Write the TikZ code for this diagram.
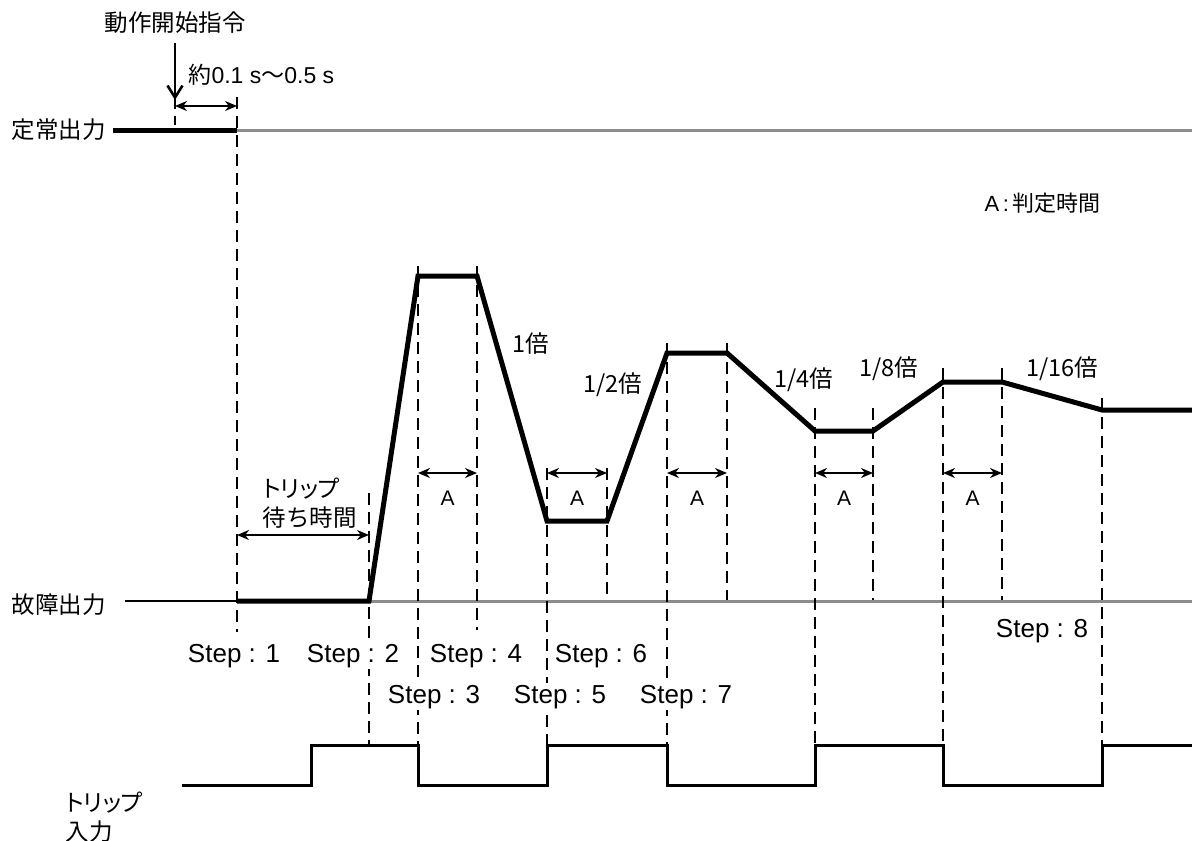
\documentclass[tikz,border=0pt]{standalone}
\usepackage{fontspec}
\setmainfont{Liberation Sans}
\newfontfamily\jp{Noto Sans CJK JP}
\newfontfamily\jpk[RawFeature=+palt]{Noto Sans CJK JP}
\usetikzlibrary{arrows.meta}
\begin{document}
\begin{tikzpicture}[x=1pt,y=-1pt,
  wave/.style={line width=5pt},
  level/.style={line width=3pt,black!45},
  guide/.style={line width=2.6pt,dash pattern=on 12pt off 7pt},
  dim/.style={line width=2.6pt,{Stealth[length=12pt,width=10pt]}-{Stealth[length=12pt,width=10pt]}},
  steplbl/.style={fill=white,inner sep=2pt,anchor=base,font=\fontsize{26}{28}\selectfont},
  jlbl/.style={font=\jp\fontsize{23.5}{29}\selectfont,align=left},
  alab/.style={font=\fontsize{21}{22}\selectfont}]
\useasboundingbox (0,0) rectangle (1192,841);
% levels
\draw[level] (237,130) -- (1192,130);
\draw[level] (369,601) -- (1192,601);
\draw[line width=2.6pt] (125,601) -- (237,601);
% guides
\foreach \x/\a/\b in {175/97/125,237/97/632,369/493/745,418/266/745,477/266/630,
  547/468/745,607/468/600,667/343/745,727/343/600,815/408/745,873/408/600,
  943/368/745,1002/368/600,1102/398/745}
  \draw[guide] (\x,\a) -- (\x,\b);
% output
\draw[wave] (113,130) -- (237,130);
\draw[wave] (237,601) -- (369,601) -- (418,276) -- (477,276) -- (547,521) -- (607,521)
  -- (667,353) -- (727,353) -- (815,431) -- (873,431) -- (943,382) -- (1002,382)
  -- (1102,410) -- (1192,410);
% trip input
\draw[line width=3pt] (182,785) -- (311,785) -- (311,745) -- (418,745) -- (418,785)
  -- (547,785) -- (547,745) -- (667,745) -- (667,785) -- (815,785) -- (815,745)
  -- (943,745) -- (943,785) -- (1102,785) -- (1102,745) -- (1192,745);
% arrows
\draw[line width=2.6pt,-{Straight Barb[length=12pt,width=15pt]}] (175,43) -- (175,100);
\draw[dim] (175,106) -- (237,106);
\draw[dim] (237,535) -- (369,535);
\foreach \l/\r in {418/477,547/607,667/727,815/873,943/1002}{
  \draw[dim] (\l,473) -- (\r,473);
  \node[alab] (a\l) at ({(\l+\r)/2},498) {A};
}
% labels
\node[jlbl] (cmd) at (175,23) {動作開始指令};
\node[anchor=west,font=\fontsize{23}{24}\selectfont] (delay) at (185,75) {{\jp 約}0.1 s{\jp ～}0.5 s};
\node[jlbl,anchor=west] (steady) at (8,130) {定常出力};
\node[jlbl,anchor=west] (fault) at (8,605) {故障出力};
\node[jlbl,anchor=west] (wait) at (259,503) {{\jpk トリップ}\\待ち時間};
\node[jlbl,anchor=west] (trip) at (62,817) {{\jpk トリップ}\\入力};
\node[anchor=west,font=\fontsize{22}{24}\selectfont] (legend) at (981,203) {A\,:\,{\jp 判定時間}};
\node[jlbl] (r1) at (531,344) {1倍};
\node[jlbl] (r2) at (613,385) {1/2倍};
\node[jlbl] (r4) at (804,380) {1/4倍};
\node[jlbl] (r8) at (889,369) {1/8倍};
\node[jlbl] (r16) at (1062,369) {1/16倍};
% steps
\node[steplbl] (s1) at (234,662) {Step : 1};
\node[steplbl] (s2) at (353,662) {Step : 2};
\node[steplbl] (s4) at (476,662) {Step : 4};
\node[steplbl] (s6) at (601,662) {Step : 6};
\node[steplbl] (s3) at (434,703) {Step : 3};
\node[steplbl] (s5) at (560,703) {Step : 5};
\node[steplbl] (s7) at (686,703) {Step : 7};
\node[steplbl] (s8) at (1042,637) {Step : 8};
\end{tikzpicture}
\end{document}
